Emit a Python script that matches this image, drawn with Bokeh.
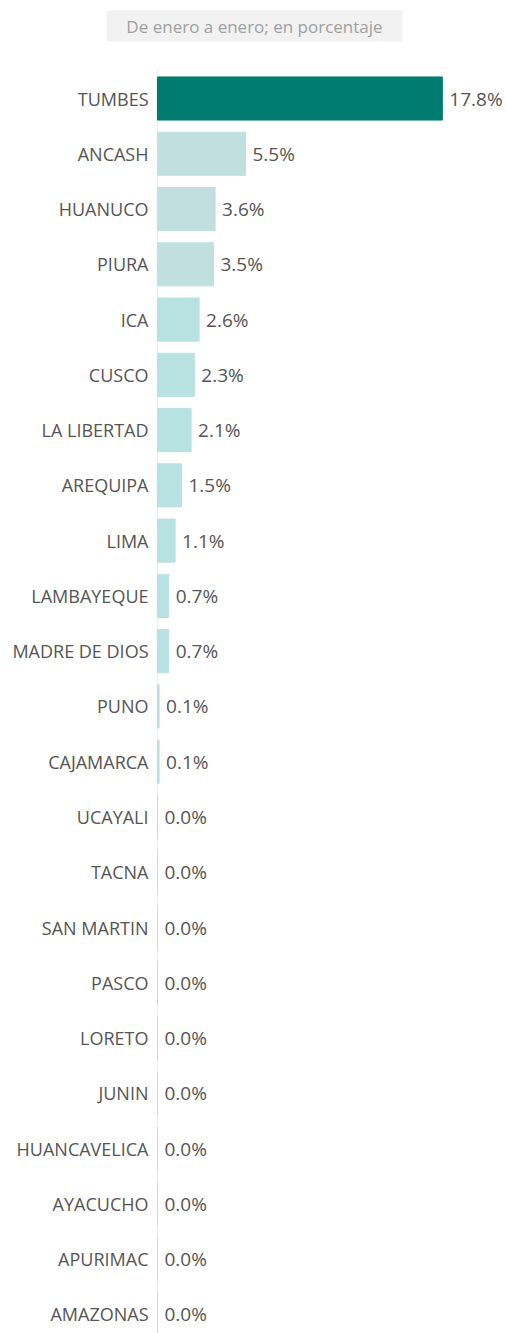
from bokeh.plotting import figure
from bokeh.models import Range1d, ColumnDataSource
from bokeh.core.properties import value
from bokeh.embed import file_html
from bokeh.resources import INLINE

regions = ["TUMBES", "ANCASH", "HUANUCO", "PIURA", "ICA", "CUSCO", "LA LIBERTAD",
           "AREQUIPA", "LIMA", "LAMBAYEQUE", "MADRE DE DIOS", "PUNO", "CAJAMARCA",
           "UCAYALI", "TACNA", "SAN MARTIN", "PASCO", "LORETO", "JUNIN",
           "HUANCAVELICA", "AYACUCHO", "APURIMAC", "AMAZONAS"]
values = [17.8, 5.5, 3.6, 3.5, 2.6, 2.3, 2.1, 1.5, 1.1, 0.7, 0.7, 0.1, 0.1,
          0.0, 0.0, 0.0, 0.0, 0.0, 0.0, 0.0, 0.0, 0.0, 0.0]
subtitle = "De enero a enero; en porcentaje"

def bar_color(i):
    if i == 0:
        return "#007B6F"
    if i <= 3:
        return "#C2DFDF"
    return "#B8E2E2"

W, H = 506, 1333
left_px = 157
px_per_unit = 16.0
row_px = 55.27
top_px = 98

idx = list(range(len(regions)))
src = ColumnDataSource(dict(
    y=idx, v=values, name=regions,
    lab=[f"{v:.1f}%" for v in values],
    color=[bar_color(i) for i in idx],
))

p = figure(width=W, height=H, output_backend="svg", toolbar_location=None,
           x_range=Range1d(-left_px / px_per_unit, (W - left_px) / px_per_unit),
           y_range=Range1d(-top_px / row_px + H / row_px, -top_px / row_px),
           min_border=0, outline_line_color=None)
p.axis.visible = False
p.grid.visible = False
p.background_fill_color = "white"
p.border_fill_color = "white"

# axis line
p.segment(x0=0, y0=-0.51, x1=0, y1=H / row_px, line_color="#EBEBEB", line_width=1)

p.hbar(y="y", left=0, right="v", height=0.78, color="color", source=src)

p.text(x=0, y="y", text="name", source=src, x_offset=-9,
       text_align="right", text_baseline="middle",
       text_font=value("Open Sans"), text_font_size="18px", text_color="#555555")
p.text(x="v", y="y", text="lab", source=src, x_offset=7,
       text_align="left", text_baseline="middle",
       text_font=value("Open Sans"), text_font_size="19px", text_color="#555555")

# subtitle
sub_x = (254 - left_px) / px_per_unit
sub_y = (25.5 - top_px) / row_px
p.rect(x=[sub_x], y=[sub_y], width=296, height=31, width_units="screen",
       height_units="screen", fill_color="#F2F2F2", line_color=None)
p.text(x=[sub_x], y=[sub_y], text=[subtitle], text_align="center", text_baseline="middle",
       text_font=value("Open Sans"), text_font_size="17px", text_color="#A0A0A0")

open("out.html", "w").write(file_html(p, INLINE))
